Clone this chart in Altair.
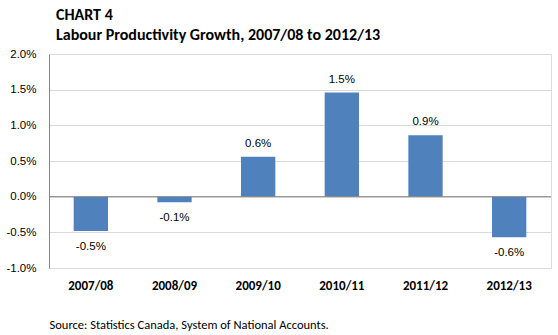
import altair as alt
import pandas as pd

years = ["2007/08", "2008/09", "2009/10", "2010/11", "2011/12", "2012/13"]
growth = [-0.48, -0.08, 0.56, 1.46, 0.86, -0.57]
y_ticks = [-1.0, -0.5, 0.0, 0.5, 1.0, 1.5, 2.0]

df = pd.DataFrame({"year": years, "growth": growth})

TITLE_FONT = "Carlito, Lato, sans-serif"
NUM_FONT = "Liberation Sans, Arial, sans-serif"
FMT = "replace(format({v}, '.1f'), '\u2212', '-') + '%'"

x_axis = alt.Axis(title="Source: Statistics Canada, System of National Accounts.",
                  titleFont=TITLE_FONT, titleFontSize=12.5, titleFontWeight="normal",
                  titleAnchor="start", titleAlign="left", titleX=0, titleY=56,
                  titleBaseline="middle", titleColor="#000000",
                  labelFont=TITLE_FONT, labelFontSize=13, labelFontWeight="bold",
                  labelColor="#000000", labelAngle=0, labelPadding=11,
                  ticks=False, domain=False, grid=False)
y_axis = alt.Axis(title=None, values=y_ticks,
                  labelExpr=FMT.format(v="datum.value"), labelOverlap=False,
                  labelFont=NUM_FONT, labelFontSize=11.5, labelColor="#000000",
                  labelPadding=13, ticks=False, domain=True, domainColor="#868686",
                  grid=True, gridColor="#D9D9D9")
x_scale = alt.Scale(paddingInner=0.59, paddingOuter=0.295)
y_scale = alt.Scale(domain=[-1.0, 2.0], nice=False)

x = alt.X("year:N", sort=years, scale=x_scale, axis=x_axis)
y = alt.Y("growth:Q", scale=y_scale, axis=y_axis)

base = alt.Chart(df)

bars = base.mark_bar(color="#4F81BD").encode(x=x, y=y)

zero = alt.Chart(pd.DataFrame({"growth": [0.0]})).mark_rule(color="#868686", strokeWidth=1).encode(y=y)

label_pos = base.transform_filter("datum.growth >= 0").transform_calculate(
    lab=FMT.format(v="datum.growth")
).mark_text(font=NUM_FONT, fontSize=11.5, color="#000000", baseline="middle", dy=-13).encode(
    x=x, y=y, text="lab:N")

label_neg = base.transform_filter("datum.growth < 0").transform_calculate(
    lab=FMT.format(v="datum.growth")
).mark_text(font=NUM_FONT, fontSize=11.5, color="#000000", baseline="middle", dy=16).encode(
    x=x, y=y, text="lab:N")

chart = alt.layer(bars, zero, label_pos, label_neg).properties(
    width=502, height=214,
    title=alt.TitleParams(
        text=["CHART 4", "Labour Productivity Growth, 2007/08 to 2012/13"],
        anchor="start", frame="group", font=TITLE_FONT, fontSize=16, fontWeight="bold",
        color="#000000", lineHeight=20, dx=7, offset=5),
    autosize=alt.AutoSizeParams(type="none"),
    padding={"left": 49, "top": 54, "right": 7, "bottom": 67},
).configure_view(stroke="#BFBFBF", strokeWidth=1).configure(background="#FFFFFF")

chart.save("out.html", embed_options={"renderer": "svg", "actions": False})
